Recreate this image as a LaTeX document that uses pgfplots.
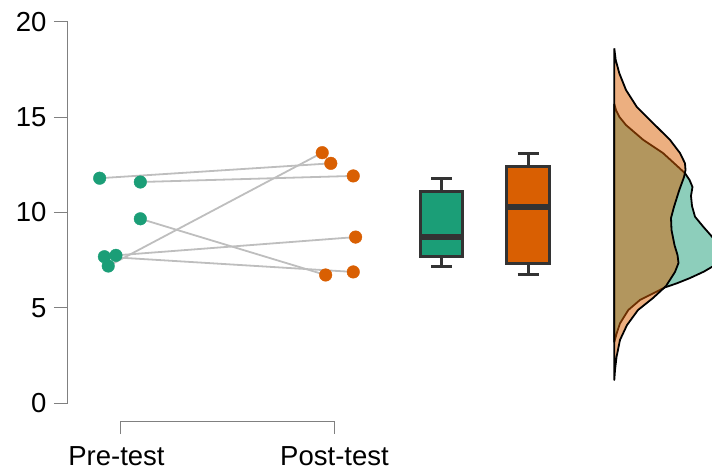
\documentclass[border=0pt]{standalone}
\usepackage{fontspec}
\setmainfont{Liberation Sans}
\usepackage{pgfplots}
\pgfplotsset{compat=1.18}
\definecolor{cgreen}{HTML}{1B9E77}
\definecolor{corange}{HTML}{D95F02}
\definecolor{boxline}{HTML}{333333}
\definecolor{axgray}{HTML}{808080}
\definecolor{linegray}{HTML}{BEBEBE}
\begin{document}
\begin{tikzpicture}
\path[use as bounding box] (-68pt,-69pt) rectangle (644pt,403pt);
\begin{axis}[
  at={(0pt,0pt)}, anchor=south west,
  scale only axis, width=644pt, height=381pt,
  xmin=0.75701, xmax=3.76636, ymin=0, ymax=20,
  axis x line=none, axis y line*=left,
  ytick={0,5,10,15,20},
  tick align=outside,
  major tick length=14pt,
  y axis line style={axgray, line width=1pt},
  tick style={axgray, line width=1pt},
  yticklabel style={font=\fontsize{27.5}{31}\selectfont, text=black, xshift=-4pt},
  /pgf/number format/assume math mode=true,
  clip=true,
]
% connecting lines
\addplot[linegray, line width=1.8pt] coordinates {(0.905,11.80) (1.985,12.58)};
\addplot[linegray, line width=1.8pt] coordinates {(1.095,11.60) (2.090,11.92)};
\addplot[linegray, line width=1.8pt] coordinates {(1.095,9.67) (1.961,6.72)};
\addplot[linegray, line width=1.8pt] coordinates {(0.927,7.68) (2.090,6.88)};
\addplot[linegray, line width=1.8pt] coordinates {(0.981,7.75) (2.101,8.71)};
\addplot[linegray, line width=1.8pt] coordinates {(0.945,7.19) (1.945,13.14)};
% points
\addplot[only marks, mark=*, mark size=6.3pt, cgreen, mark options={draw=cgreen, fill=cgreen}]
  coordinates {(0.905,11.80) (1.095,11.60) (1.095,9.67) (0.927,7.68) (0.981,7.75) (0.945,7.19)};
\addplot[only marks, mark=*, mark size=6.3pt, corange, mark options={draw=corange, fill=corange}]
  coordinates {(1.985,12.58) (2.090,11.92) (1.961,6.72) (2.090,6.88) (2.101,8.71) (1.945,13.14)};
% boxplot: Pre-test
\addplot[boxline, line width=3pt] coordinates {(2.503,11.12) (2.503,11.80)};
\addplot[boxline, line width=3pt] coordinates {(2.503,7.19) (2.503,7.70)};
\addplot[boxline, line width=3pt] coordinates {(2.454,11.80) (2.552,11.80)};
\addplot[boxline, line width=3pt] coordinates {(2.454,7.19) (2.552,7.19)};
\addplot[draw=boxline, fill=cgreen, line width=3pt, line join=miter]
  coordinates {(2.404,7.70) (2.602,7.70) (2.602,11.12) (2.404,11.12) (2.404,7.70)} -- cycle;
\addplot[boxline, line width=6pt] coordinates {(2.404,8.71) (2.602,8.71)};
% boxplot: Post-test
\addplot[boxline, line width=3pt] coordinates {(2.907,12.41) (2.907,13.12)};
\addplot[boxline, line width=3pt] coordinates {(2.907,6.72) (2.907,7.32)};
\addplot[boxline, line width=3pt] coordinates {(2.858,13.12) (2.956,13.12)};
\addplot[boxline, line width=3pt] coordinates {(2.858,6.72) (2.956,6.72)};
\addplot[draw=boxline, fill=corange, line width=3pt, line join=miter]
  coordinates {(2.808,7.32) (3.006,7.32) (3.006,12.41) (2.808,12.41) (2.808,7.32)} -- cycle;
\addplot[boxline, line width=6pt] coordinates {(2.808,10.30) (3.006,10.30)};
% densities
\addplot[fill=cgreen, fill opacity=0.5, draw=black, line width=1.8pt, line join=round] coordinates {
(3.3098,15.70) (3.3177,15.38) (3.3341,15.01) (3.3645,14.59) (3.4453,13.81) (3.5374,13.12)
(3.6075,12.40) (3.6402,12.06) (3.6612,11.71) (3.6752,11.34) (3.6682,10.87) (3.6729,10.34)
(3.6869,9.78) (3.7257,9.25) (3.7664,8.73) (3.7944,8.29) (3.8131,7.90) (3.8084,7.56)
(3.7803,7.24) (3.7290,6.90) (3.6636,6.56) (3.6014,6.28) (3.5467,6.07) (3.4299,5.41)
(3.3752,4.88) (3.3364,4.18) (3.3210,3.66) (3.3098,3.20) (3.3098,15.70)};
\addplot[fill=corange, fill opacity=0.5, draw=black, line width=1.8pt, line join=round] coordinates {
(3.3098,18.62) (3.3163,18.01) (3.3332,17.31) (3.3645,16.43) (3.4145,15.55) (3.4920,14.68)
(3.5701,13.81) (3.6168,13.12) (3.6402,12.58) (3.6425,12.23) (3.6355,11.86) (3.6135,11.18)
(3.5888,10.30) (3.5748,9.71) (3.5771,9.08) (3.5911,8.29) (3.6051,7.77) (3.6098,7.35)
(3.5935,6.88) (3.5514,6.14) (3.4906,5.51) (3.4205,4.88) (3.3691,4.09) (3.3364,3.31)
(3.3201,2.41) (3.3131,1.73) (3.3098,1.21) (3.3098,18.62)};
\coordinate (pre) at (axis cs:1,0);
\coordinate (post) at (axis cs:2,0);
\end{axis}
\draw[axgray, line width=1pt] ([yshift=-31pt]pre) -- ([yshift=-18pt]pre) -- ([yshift=-18pt]post) -- ([yshift=-31pt]post);
\node[anchor=base, font=\fontsize{27.5}{31}\selectfont, inner sep=0pt] at ([xshift=-3.5pt,yshift=-62pt]pre) {Pre-test};
\node[anchor=base, font=\fontsize{27.5}{31}\selectfont, inner sep=0pt] at ([xshift=0.5pt,yshift=-62pt]post) {Post-test};
\end{tikzpicture}
\end{document}
